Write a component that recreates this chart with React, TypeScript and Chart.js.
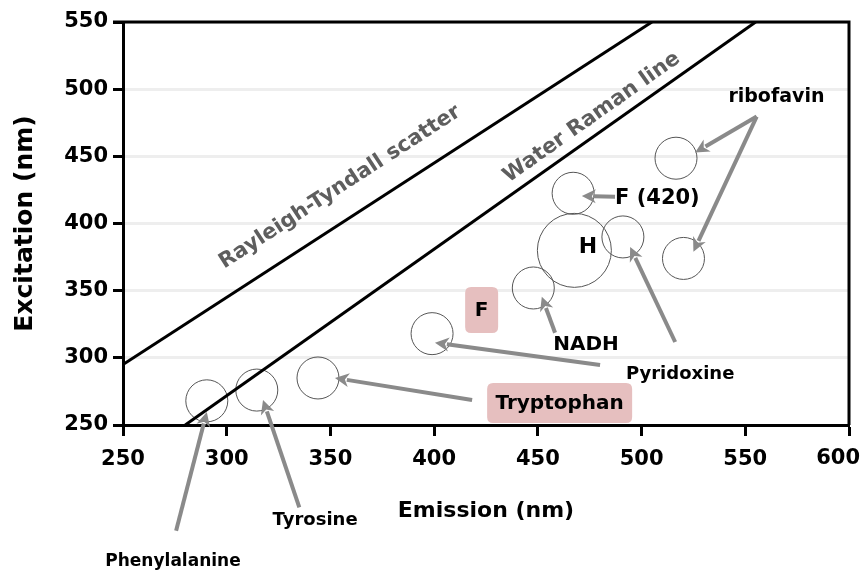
import React, { useEffect, useRef } from 'react';
import { Chart, registerables } from 'chart.js';

Chart.register(...registerables);

const FONT = '"DejaVu Sans", "Noto Sans", sans-serif';

// Axis ticks
const xTicks = [250, 300, 350, 400, 450, 500, 550, 600];
const yTicks = [250, 300, 350, 400, 450, 500, 550];

// Fluorophore circles (emission, excitation)
const emission = [290.4, 314.5, 344, 399, 447.8, 467.6, 467, 491, 516.6, 520.2];
const excitation = [268, 276, 285, 318, 352, 380, 422.5, 390, 448.6, 374];
const bubbleRadius = [21, 21, 21, 21, 21, 37, 21, 21, 21, 21];

// Scatter lines
const rayleighEm = [250, 505];
const rayleighEx = [295, 550];
const ramanEm = [280, 555];
const ramanEx = [250, 550];

// Arrows (from -> to) in data units
const arrowFromEm = [275.6, 335, 418.3, 480, 516.2, 458.3, 487.2, 555.5, 555.5];
const arrowFromEx = [171.3, 188.7, 268.6, 294.7, 311.8, 318.7, 420, 479.6, 479.6];
const arrowToEm = [290.4, 317.5, 352.2, 400.4, 494.5, 451.9, 471.2, 525.8, 525];
const arrowToEx = [259.7, 268.6, 285, 311.3, 382.5, 345.5, 420.5, 452.8, 379];

// Text labels
const labelText = ['ribofavin', 'F (420)', 'H', 'NADH', 'Pyridoxine', 'Tyrosine', 'Phenylalanine'];
const labelEm = [565, 487.2, 474.2, 473.2, 518.6, 342.6, 274.1];
const labelEx = [494.2, 418.8, 382.5, 309.6, 287.5, 179.3, 148];
const labelAlign = ['center', 'left', 'center', 'center', 'center', 'center', 'center'];
const labelSize = [19, 21, 22, 20, 18, 18, 17];

// Boxed labels
const boxText = ['F', 'Tryptophan'];
const boxEm = [422.9, 460.5];
const boxEx = [335.6, 266.4];

// Line labels
const lineLabelText = ['Rayleigh-Tyndall scatter', 'Water Raman line'];
const lineLabelEm = [354.6, 476];
const lineLabelEx = [427, 479];

function drawArrow(ctx: CanvasRenderingContext2D, x1: number, y1: number, x2: number, y2: number) {
  const ang = Math.atan2(y2 - y1, x2 - x1);
  const head = 14;
  const hw = 7;
  const bx = x2 - head * Math.cos(ang);
  const by = y2 - head * Math.sin(ang);
  ctx.strokeStyle = '#8a8a8a';
  ctx.fillStyle = '#8a8a8a';
  ctx.lineWidth = 4;
  ctx.lineCap = 'butt';
  ctx.beginPath();
  ctx.moveTo(x1, y1);
  ctx.lineTo(bx + 2 * Math.cos(ang), by + 2 * Math.sin(ang));
  ctx.stroke();
  ctx.beginPath();
  ctx.moveTo(x2, y2);
  ctx.lineTo(bx - hw * Math.sin(ang), by + hw * Math.cos(ang));
  ctx.lineTo(bx + 4 * Math.cos(ang), by + 4 * Math.sin(ang));
  ctx.lineTo(bx + hw * Math.sin(ang), by - hw * Math.cos(ang));
  ctx.closePath();
  ctx.fill();
}

function roundRect(ctx: CanvasRenderingContext2D, x: number, y: number, w: number, h: number, r: number) {
  ctx.beginPath();
  ctx.moveTo(x + r, y);
  ctx.lineTo(x + w - r, y);
  ctx.quadraticCurveTo(x + w, y, x + w, y + r);
  ctx.lineTo(x + w, y + h - r);
  ctx.quadraticCurveTo(x + w, y + h, x + w - r, y + h);
  ctx.lineTo(x + r, y + h);
  ctx.quadraticCurveTo(x, y + h, x, y + h - r);
  ctx.lineTo(x, y + r);
  ctx.quadraticCurveTo(x, y, x + r, y);
  ctx.closePath();
}

const TICK_FONT = `bold 21px ${FONT}`;

const annotPlugin = {
  id: 'annot',
  afterDraw(chart: any) {
    const ctx: CanvasRenderingContext2D = chart.ctx;
    const xs = chart.scales.x;
    const ys = chart.scales.y;
    const area = chart.chartArea;
    ctx.save();

    // top and right frame
    ctx.strokeStyle = '#000';
    ctx.lineWidth = 3;
    ctx.beginPath();
    ctx.moveTo(area.left - 10, area.top);
    ctx.lineTo(area.right + 1.5, area.top);
    ctx.moveTo(area.right, area.top);
    ctx.lineTo(area.right, area.bottom);
    ctx.stroke();

    // last x tick label, pulled inside the canvas
    const lastTick = xTicks[xTicks.length - 1];
    ctx.fillStyle = '#000';
    ctx.font = TICK_FONT;
    ctx.textAlign = 'right';
    ctx.textBaseline = 'middle';
    ctx.fillText(String(lastTick), xs.getPixelForValue(lastTick) + 11, area.bottom + 34);

    // line labels
    const rAng = Math.atan2(
      ys.getPixelForValue(rayleighEx[1]) - ys.getPixelForValue(rayleighEx[0]),
      xs.getPixelForValue(rayleighEm[1]) - xs.getPixelForValue(rayleighEm[0])
    );
    const wAng = Math.atan2(
      ys.getPixelForValue(ramanEx[1]) - ys.getPixelForValue(ramanEx[0]),
      xs.getPixelForValue(ramanEm[1]) - xs.getPixelForValue(ramanEm[0])
    );
    const angs = [rAng, wAng];
    ctx.fillStyle = '#5e5e5e';
    ctx.font = `bold 21px ${FONT}`;
    ctx.textAlign = 'center';
    ctx.textBaseline = 'middle';
    lineLabelText.forEach((t, i) => {
      ctx.save();
      ctx.translate(xs.getPixelForValue(lineLabelEm[i]), ys.getPixelForValue(lineLabelEx[i]));
      ctx.rotate(angs[i]);
      ctx.fillText(t, 0, 0);
      ctx.restore();
    });

    // boxed labels
    boxText.forEach((t, i) => {
      const cx = xs.getPixelForValue(boxEm[i]);
      const cy = ys.getPixelForValue(boxEx[i]);
      ctx.font = `bold 20px ${FONT}`;
      const w = i === 0 ? 33 : 145;
      const h = i === 0 ? 46 : 40;
      ctx.fillStyle = '#e6bfbf';
      roundRect(ctx, cx - w / 2, cy - h / 2, w, h, 6);
      ctx.fill();
      ctx.fillStyle = '#000';
      ctx.textAlign = 'center';
      ctx.textBaseline = 'middle';
      ctx.fillText(t, cx, cy + 1);
    });

    // arrows
    arrowFromEm.forEach((_, i) => {
      drawArrow(
        ctx,
        xs.getPixelForValue(arrowFromEm[i]),
        ys.getPixelForValue(arrowFromEx[i]),
        xs.getPixelForValue(arrowToEm[i]),
        ys.getPixelForValue(arrowToEx[i])
      );
    });

    // text labels
    ctx.fillStyle = '#000';
    ctx.textBaseline = 'middle';
    labelText.forEach((t, i) => {
      ctx.font = `bold ${labelSize[i]}px ${FONT}`;
      ctx.textAlign = labelAlign[i] as CanvasTextAlign;
      ctx.fillText(t, xs.getPixelForValue(labelEm[i]), ys.getPixelForValue(labelEx[i]));
    });

    ctx.restore();
  },
};

export default function App() {
  const ref = useRef<HTMLCanvasElement>(null);
  useEffect(() => {
    document.body.style.margin = '0';
    const bubbles = emission.map((x, i) => ({ x, y: excitation[i], r: bubbleRadius[i] }));
    const chart = new Chart(ref.current as HTMLCanvasElement, {
      type: 'bubble',
      data: {
        datasets: [
          {
            type: 'line',
            label: 'Rayleigh-Tyndall scatter',
            data: rayleighEm.map((x, i) => ({ x, y: rayleighEx[i] })),
            borderColor: '#000',
            borderWidth: 3,
            pointRadius: 0,
            fill: false,
          } as any,
          {
            type: 'line',
            label: 'Water Raman line',
            data: ramanEm.map((x, i) => ({ x, y: ramanEx[i] })),
            borderColor: '#000',
            borderWidth: 3,
            pointRadius: 0,
            fill: false,
          } as any,
          {
            type: 'bubble',
            label: 'Fluorophores',
            data: bubbles,
            backgroundColor: 'rgba(0,0,0,0)',
            borderColor: '#555',
            borderWidth: 1,
          } as any,
        ],
      },
      options: {
        responsive: false,
        animation: false,
        layout: { autoPadding: false, padding: { top: 22, right: 15, left: 0, bottom: 0 } },
        plugins: { legend: { display: false }, tooltip: { enabled: false } },
        scales: {
          x: {
            type: 'linear',
            min: 250,
            max: 600,
            afterBuildTicks: (s: any) => {
              s.ticks = xTicks.map((v) => ({ value: v }));
            },
            afterFit: (s: any) => {
              s.height = 149;
              s.paddingLeft = 0;
              s.paddingRight = 0;
            },
            grid: { drawOnChartArea: false, tickLength: 11, tickColor: '#000', tickWidth: 3 },
            border: { color: '#000', width: 3 },
            ticks: {
              font: { family: FONT, size: 21, weight: 'bold' },
              color: '#000',
              padding: 11,
              maxRotation: 0,
              callback: (v: any) => (v === xTicks[xTicks.length - 1] ? '' : String(v)),
            },
            title: {
              display: true,
              text: 'Emission (nm)',
              font: { family: FONT, size: 22, weight: 'bold' },
              color: '#000',
              padding: { top: 0, bottom: 50 },
            },
          },
          y: {
            type: 'linear',
            min: 250,
            max: 550,
            afterBuildTicks: (s: any) => {
              s.ticks = yTicks.map((v) => ({ value: v }));
            },
            afterFit: (s: any) => {
              s.width = 123;
              s.paddingTop = 0;
              s.paddingBottom = 0;
            },
            grid: { color: '#eeeeee', lineWidth: 3, tickLength: 10, tickColor: '#000', tickWidth: 3 },
            border: { color: '#000', width: 3 },
            ticks: { font: { family: FONT, size: 21, weight: 'bold' }, color: '#000', padding: 5 },
            title: {
              display: true,
              text: 'Excitation (nm)',
              font: { family: FONT, size: 25, weight: 'bold' },
              color: '#000',
              padding: { top: 10, bottom: 0 },
            },
          },
        },
      },
      plugins: [annotPlugin],
    });
    return () => chart.destroy();
  }, []);
  return <canvas ref={ref} width={864} height={574} style={{ display: 'block' }} />;
}
